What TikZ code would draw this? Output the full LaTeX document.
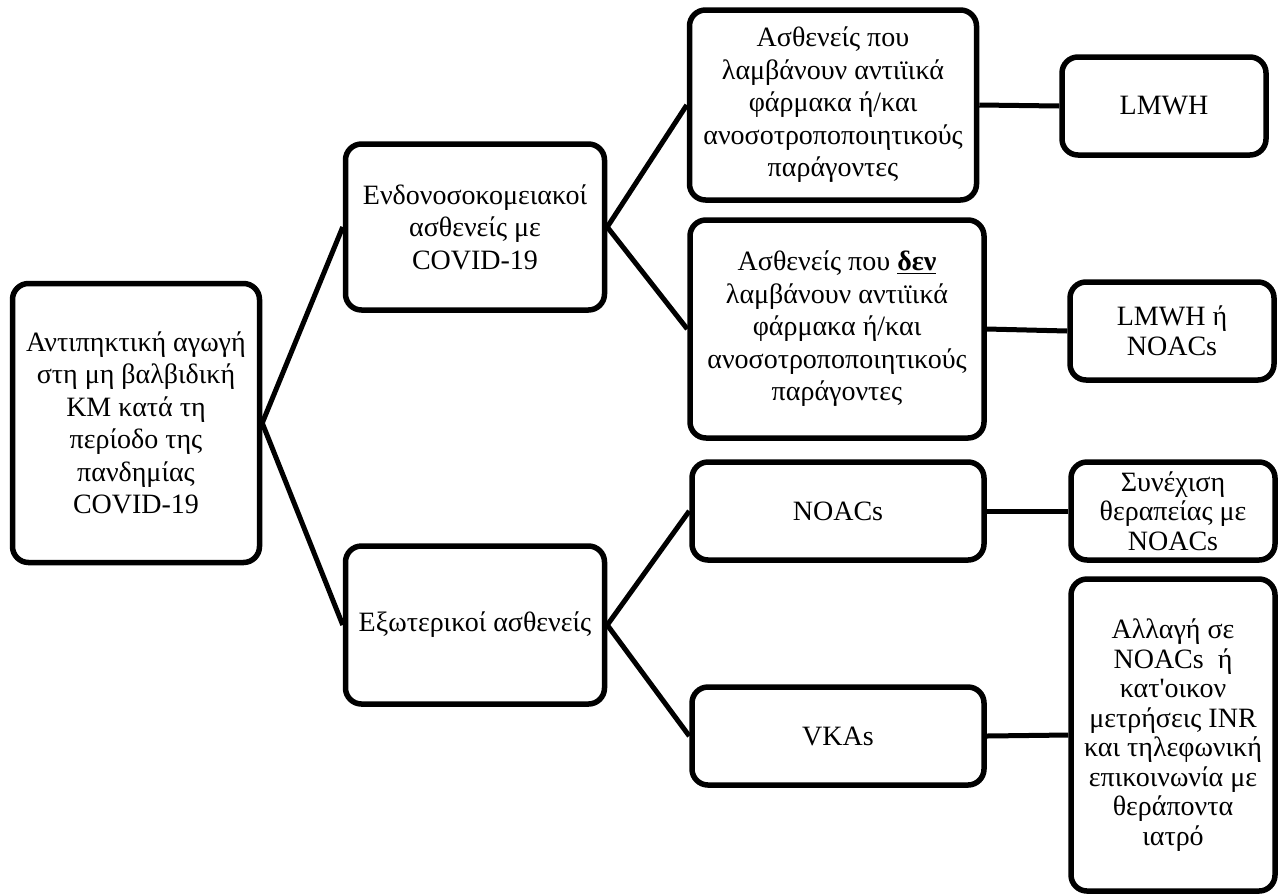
\documentclass[tikz,border=0pt]{standalone}
\usepackage{fontspec}
\setmainfont{Liberation Serif}

\begin{document}
\begin{tikzpicture}[
    x=1pt, y=-1pt,
    every node/.style={font=\fontsize{28}{32.5}\selectfont, align=center},
    box/.style={draw=black, line width=5.5pt, rounded corners=16pt, inner sep=0pt},
    wide/.style={box, minimum width=292pt, minimum height=98pt},
    leaf/.style={box, minimum width=204pt, minimum height=98pt},
    tight/.style={font=\fontsize{28}{29.5}\selectfont},
    link/.style={draw=black, line width=5pt},
]
\useasboundingbox (0,0) rectangle (1284,895);

% ---------------------------------------------------------- root
\node[box, minimum width=247pt, minimum height=279pt] (root) at (136,423)
    {Αντιπηκτική αγωγή\\στη μη βαλβιδική\\ΚΜ κατά τη\\περίοδο της\\πανδημίας\\COVID-19};

% ---------------------------------------------------------- patient groups
\node[box, minimum width=259pt, minimum height=166pt] (inhosp) at (475,227)
    {Ενδονοσοκομειακοί\\ασθενείς με\\COVID-19};
\node[box, minimum width=259pt, minimum height=158pt] (outpat) at (475,625)
    {Εξωτερικοί ασθενείς};

% ---------------------------------------------------------- sub-groups
\node[box, minimum width=287pt, minimum height=190pt] (antiv) at (833,105)
    {Ασθενείς που\\λαμβάνουν αντιϊικά\\φάρμακα ή/και\\ανοσοτροποποιητικούς\\παράγοντες};
\node[box, minimum width=294pt, minimum height=218pt] (noantiv) at (837,329)
    {Ασθενείς που \textbf{\underline{δεν}}\\λαμβάνουν αντιϊικά\\φάρμακα ή/και\\ανοσοτροποποιητικούς\\παράγοντες};
\node[wide] (noac) at (838,511) {NOACs};
\node[wide] (vka) at (838,736) {VKAs};

% ---------------------------------------------------------- treatment
\node[leaf] (lmwh) at (1164,106) {LMWH};
\node[leaf, tight] (lmwhnoac) at (1172,331) {LMWH ή\\NOACs};
\node[leaf, tight] (keepnoac) at (1173,511) {Συνέχιση\\θεραπείας με\\NOACs};
\node[leaf, tight, minimum height=312pt] (switch) at (1173,735)
    {Αλλαγή σε\\NOACs\ \ ή\\κατ\textquotesingle οικον\\μετρήσεις INR\\και τηλεφωνική\\επικοινωνία με\\θεράποντα\\ιατρό};

% ---------------------------------------------------------- connectors
\draw[link] (root.east) -- (inhosp.west);
\draw[link] (root.east) -- (outpat.west);
\draw[link] (inhosp.east) -- (antiv.west);
\draw[link] (inhosp.east) -- (noantiv.west);
\draw[link] (outpat.east) -- (noac.west);
\draw[link] (outpat.east) -- (vka.west);
\draw[link] (antiv.east) -- (lmwh.west);
\draw[link] (noantiv.east) -- (lmwhnoac.west);
\draw[link] (noac.east) -- (keepnoac.west);
\draw[link] (vka.east) -- (switch.west);

\end{tikzpicture}
\end{document}
